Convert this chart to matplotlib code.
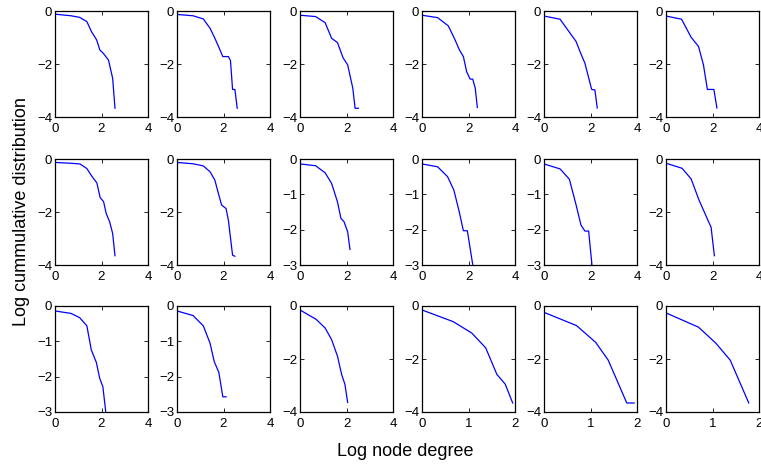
# -*- coding: utf-8 -*-

import matplotlib
matplotlib.use('Agg')
import matplotlib.pyplot as plt

# log node degree / log cumulative distribution
top_x = [
    [0, 0.69, 1.06, 1.37, 1.57, 1.79, 1.93, 2.08, 2.30, 2.48, 2.58],
    [0, 0.69, 1.13, 1.42, 1.63, 1.85, 1.97, 2.21, 2.30, 2.39, 2.49, 2.59],
    [0, 0.67, 1.08, 1.36, 1.61, 1.86, 2.05, 2.27, 2.37, 2.51],
    [0, 0.67, 1.13, 1.39, 1.61, 1.78, 1.92, 2.07, 2.18, 2.29, 2.38],
    [0, 0.69, 1.38, 1.58, 1.76, 2.05, 2.19, 2.29],
    [0, 0.67, 1.08, 1.40, 1.61, 1.78, 2.06, 2.19],
]
top_y = [
    [-0.12, -0.18, -0.24, -0.40, -0.78, -1.09, -1.47, -1.60, -1.85, -2.54, -3.67],
    [-0.13, -0.18, -0.30, -0.65, -1.03, -1.47, -1.72, -1.72, -1.87, -2.96, -2.96, -3.67],
    [-0.16, -0.21, -0.44, -1.03, -1.19, -1.78, -2.03, -2.91, -3.67, -3.67],
    [-0.16, -0.25, -0.56, -1.03, -1.47, -1.72, -2.29, -2.57, -2.57, -2.91, -3.64],
    [-0.19, -0.31, -1.15, -1.60, -1.97, -2.96, -2.98, -3.66],
    [-0.19, -0.31, -0.99, -1.34, -2.03, -2.96, -2.96, -3.66],
]
mid_x = [
    [0, 0.69, 1.08, 1.37, 1.60, 1.80, 1.94, 2.09, 2.20, 2.35, 2.48, 2.58],
    [0, 0.69, 1.13, 1.42, 1.63, 1.78, 1.92, 2.11, 2.21, 2.39, 2.49],
    [0, 0.67, 1.08, 1.36, 1.61, 1.76, 1.89, 2.05, 2.15],
    [0, 0.67, 1.10, 1.37, 1.60, 1.78, 1.95, 2.18],
    [0, 0.69, 1.09, 1.38, 1.59, 1.76, 1.92, 2.06],
    [0, 0.69, 1.08, 1.42, 1.94, 2.08],
]
mid_y = [
    [-0.13, -0.16, -0.19, -0.36, -0.67, -0.90, -1.45, -1.61, -2.05, -2.37, -2.81, -3.65],
    [-0.13, -0.18, -0.26, -0.48, -0.80, -1.30, -1.74, -1.87, -2.31, -3.63, -3.67],
    [-0.14, -0.19, -0.39, -0.69, -1.21, -1.68, -1.77, -2.06, -2.56],
    [-0.14, -0.22, -0.50, -0.88, -1.49, -2.03, -2.03, -2.98],
    [-0.14, -0.28, -0.57, -1.30, -1.87, -2.04, -2.04, -2.98],
    [-0.16, -0.35, -0.75, -1.55, -2.58, -3.65],
]
bot_x = [
    [0, 0.69, 1.06, 1.37, 1.56, 1.78, 1.92, 2.06, 2.18],
    [0, 0.69, 1.13, 1.42, 1.60, 1.80, 1.97, 2.11],
    [0, 0.69, 1.08, 1.36, 1.61, 1.79, 1.93, 2.05],
    [0, 0.67, 1.07, 1.37, 1.61, 1.79, 1.95],
    [0, 0.70, 1.11, 1.38, 1.78, 1.94],
    [0, 0.70, 1.07, 1.38, 1.78],
]
bot_y = [
    [-0.14, -0.21, -0.33, -0.56, -1.24, -1.60, -2.04, -2.29, -2.98],
    [-0.14, -0.27, -0.56, -1.05, -1.57, -1.88, -2.57, -2.57],
    [-0.15, -0.50, -0.83, -1.27, -1.89, -2.58, -2.95, -3.64],
    [-0.15, -0.59, -1.02, -1.58, -2.58, -2.95, -3.66],
    [-0.24, -0.74, -1.37, -2.04, -3.66, -3.66],
    [-0.26, -0.80, -1.40, -2.04, -3.66],
]

# axis limits per row
top_ymin = [-4, -4, -4, -4, -4, -4]
mid_ymin = [-4, -4, -3, -3, -3, -4]
bot_ymin = [-3, -3, -4, -4, -4, -4]
bot_xmax = [4, 4, 4, 2, 2, 2]

plt.rcParams['font.family'] = ['Liberation Sans', 'DejaVu Sans']

fig = plt.figure(figsize=(7.61, 4.66), dpi=100)

W, H = 761.0, 466.0
lefts = [55, 177, 300, 422, 544, 666]
tops = [11, 159, 306]
aw, ah = 93, 106

rows = [(top_x, top_y, top_ymin, [4] * 6),
        (mid_x, mid_y, mid_ymin, [4] * 6),
        (bot_x, bot_y, bot_ymin, bot_xmax)]

for r, (xs, ys, ymins, xmaxs) in enumerate(rows):
    for c in range(6):
        ax = fig.add_axes([lefts[c] / W, 1 - (tops[r] + ah) / H, aw / W, ah / H])
        ax.plot(xs[c], ys[c], color='b', lw=0.9)
        ax.set_xlim(0, xmaxs[c])
        ax.set_ylim(ymins[c], 0)
        if xmaxs[c] == 4:
            ax.set_xticks([0, 2, 4])
        else:
            ax.set_xticks([0, 1, 2])
        if ymins[c] == -4:
            ax.set_yticks([-4, -2, 0])
        else:
            ax.set_yticks([-3, -2, -1, 0])
        ax.tick_params(direction='in', top=True, right=True, length=3,
                       width=0.6, labelsize=9.5)
        ax.tick_params(axis='x', pad=4.5)
        ax.tick_params(axis='y', pad=2)
        for s in ax.spines.values():
            s.set_linewidth(0.9)

fig.text(405 / W, 1 - 452 / H, 'Log node degree', ha='center', va='center', fontsize=13)
fig.text(22 / W, 1 - 212 / H, 'Log cummulative distribution', ha='center', va='center',
         rotation=90, fontsize=13)

fig.savefig('out.png', dpi=100)
